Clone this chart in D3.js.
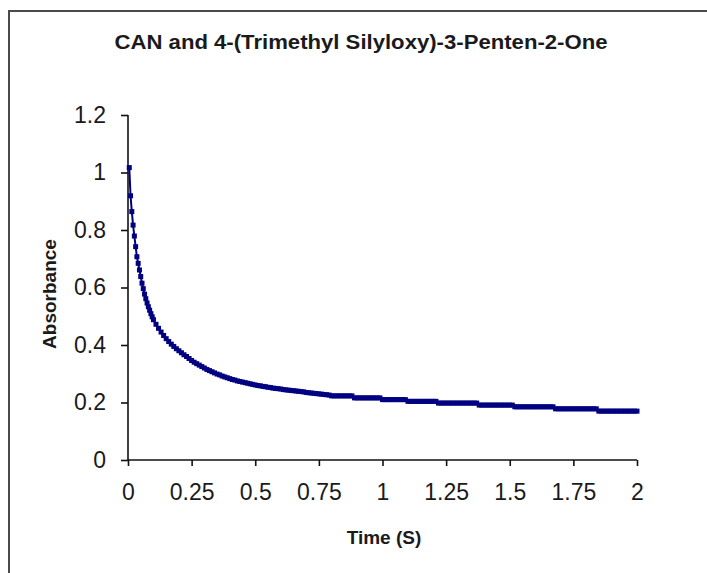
<!DOCTYPE html>
<html>
<head>
<meta charset="utf-8">
<script src="https://cdn.jsdelivr.net/npm/d3@7"></script>
<style>
  html, body { margin: 0; padding: 0; background: #fff; }
  svg { display: block; }
  text { font-family: Arial, "Liberation Sans", sans-serif; fill: #1a1a1a; }
</style>
</head>
<body>
<svg id="chart" width="707" height="573"></svg>
<script>
// Kinetic trace: absorbance of CAN + 4-(trimethyl silyloxy)-3-penten-2-one over time
const chartTitle = "CAN and 4-(Trimethyl Silyloxy)-3-Penten-2-One";
const xTitle = "Time (S)";
const yTitle = "Absorbance";

const xTickValues = [0, 0.25, 0.5, 0.75, 1, 1.25, 1.5, 1.75, 2];
const xTickLabels = ["0", "0.25", "0.5", "0.75", "1", "1.25", "1.5", "1.75", "2"];
const yTickValues = [0, 0.2, 0.4, 0.6, 0.8, 1, 1.2];
const yTickLabels = ["0", "0.2", "0.4", "0.6", "0.8", "1", "1.2"];

// sample times (s)
const timeS = [
  0.005, 0.01, 0.015, 0.02, 0.025, 0.03, 0.035, 0.04, 0.045, 0.05,
  0.055, 0.06, 0.065, 0.07, 0.075, 0.08, 0.085, 0.09, 0.095, 0.1,
  0.11, 0.12, 0.13, 0.14, 0.15, 0.16, 0.17, 0.18, 0.19, 0.2,
  0.21, 0.22, 0.23, 0.24, 0.25, 0.26, 0.27, 0.28, 0.29, 0.3,
  0.31, 0.32, 0.33, 0.34, 0.35, 0.36, 0.37, 0.38, 0.39, 0.4,
  0.41, 0.42, 0.43, 0.44, 0.45, 0.46, 0.47, 0.48, 0.49, 0.5,
  0.51, 0.52, 0.53, 0.54, 0.55, 0.56, 0.57, 0.58, 0.59, 0.6,
  0.61, 0.62, 0.63, 0.64, 0.65, 0.66, 0.67, 0.68, 0.69, 0.7,
  0.71, 0.72, 0.73, 0.74, 0.75, 0.76, 0.77, 0.78, 0.79, 0.8,
  0.81, 0.82, 0.83, 0.84, 0.85, 0.86, 0.87, 0.88, 0.89, 0.9,
  0.91, 0.92, 0.93, 0.94, 0.95, 0.96, 0.97, 0.98, 0.99, 1.0,
  1.01, 1.02, 1.03, 1.04, 1.05, 1.06, 1.07, 1.08, 1.09, 1.1,
  1.11, 1.12, 1.13, 1.14, 1.15, 1.16, 1.17, 1.18, 1.19, 1.2,
  1.21, 1.22, 1.23, 1.24, 1.25, 1.26, 1.27, 1.28, 1.29, 1.3,
  1.31, 1.32, 1.33, 1.34, 1.35, 1.36, 1.37, 1.38, 1.39, 1.4,
  1.41, 1.42, 1.43, 1.44, 1.45, 1.46, 1.47, 1.48, 1.49, 1.5,
  1.51, 1.52, 1.53, 1.54, 1.55, 1.56, 1.57, 1.58, 1.59, 1.6,
  1.61, 1.62, 1.63, 1.64, 1.65, 1.66, 1.67, 1.68, 1.69, 1.7,
  1.71, 1.72, 1.73, 1.74, 1.75, 1.76, 1.77, 1.78, 1.79, 1.8,
  1.81, 1.82, 1.83, 1.84, 1.85, 1.86, 1.87, 1.88, 1.89, 1.9,
  1.91, 1.92, 1.93, 1.94, 1.95, 1.96, 1.97, 1.98, 1.99, 2.0
];

// measured absorbance at each sample time
const absorbance = [
  1.017, 0.919, 0.864, 0.817, 0.779, 0.742, 0.707, 0.684, 0.661, 0.638,
  0.615, 0.596, 0.577, 0.561, 0.546, 0.533, 0.521, 0.509, 0.498, 0.488,
  0.472, 0.458, 0.445, 0.433, 0.422, 0.412, 0.403, 0.395, 0.387, 0.380,
  0.373, 0.366, 0.360, 0.353, 0.346, 0.340, 0.335, 0.330, 0.325, 0.320,
  0.315, 0.311, 0.307, 0.303, 0.299, 0.296, 0.292, 0.289, 0.286, 0.283,
  0.280, 0.278, 0.275, 0.273, 0.271, 0.269, 0.267, 0.265, 0.263, 0.261,
  0.259, 0.258, 0.256, 0.255, 0.253, 0.252, 0.250, 0.249, 0.248, 0.247,
  0.245, 0.244, 0.243, 0.242, 0.241, 0.240, 0.239, 0.238, 0.237, 0.235,
  0.234, 0.233, 0.232, 0.231, 0.230, 0.229, 0.228, 0.227, 0.226, 0.223,
  0.223, 0.223, 0.223, 0.223, 0.223, 0.223, 0.223, 0.223, 0.216, 0.216,
  0.216, 0.216, 0.216, 0.216, 0.216, 0.216, 0.216, 0.216, 0.216, 0.210,
  0.210, 0.210, 0.210, 0.210, 0.210, 0.210, 0.210, 0.210, 0.210, 0.204,
  0.204, 0.204, 0.204, 0.204, 0.204, 0.204, 0.204, 0.204, 0.204, 0.204,
  0.204, 0.198, 0.198, 0.198, 0.198, 0.198, 0.198, 0.198, 0.198, 0.198,
  0.198, 0.198, 0.198, 0.198, 0.198, 0.198, 0.198, 0.191, 0.191, 0.191,
  0.191, 0.191, 0.191, 0.191, 0.191, 0.191, 0.191, 0.191, 0.191, 0.191,
  0.191, 0.185, 0.185, 0.185, 0.185, 0.185, 0.185, 0.185, 0.185, 0.185,
  0.185, 0.185, 0.185, 0.185, 0.185, 0.185, 0.185, 0.178, 0.178, 0.178,
  0.178, 0.178, 0.178, 0.178, 0.178, 0.178, 0.178, 0.178, 0.178, 0.178,
  0.178, 0.178, 0.178, 0.178, 0.170, 0.170, 0.170, 0.170, 0.170, 0.170,
  0.170, 0.170, 0.170, 0.170, 0.170, 0.170, 0.170, 0.170, 0.170, 0.170
];

const svg = d3.select("#chart");
const W = 707, H = 573;
const plot = { left: 128, right: 637, top: 115, bottom: 460 };
const seriesColor = "#000080";

// outer chart frame (runs off the right and bottom edges)
svg.append("path")
  .attr("d", `M9,${H + 5} L9,11 L${W + 5},11`)
  .attr("fill", "none")
  .attr("stroke", "#4a4a4a")
  .attr("stroke-width", 2);

const x = d3.scaleLinear().domain([0, 2]).range([plot.left, plot.right]);
const y = d3.scaleLinear().domain([0, 1.2]).range([plot.bottom, plot.top]);

// title
svg.append("text")
  .attr("x", 361).attr("y", 49)
  .attr("text-anchor", "middle")
  .attr("font-size", 20).attr("font-weight", "bold")
  .attr("textLength", 493).attr("lengthAdjust", "spacingAndGlyphs")
  .text(chartTitle);

// axes
const xAxis = d3.axisBottom(x)
  .tickValues(xTickValues)
  .tickFormat((d, i) => xTickLabels[i])
  .tickSize(6).tickPadding(18);
const yAxis = d3.axisLeft(y)
  .tickValues(yTickValues)
  .tickFormat((d, i) => yTickLabels[i])
  .tickSize(7).tickPadding(15);

const gx = svg.append("g").attr("transform", `translate(0,${plot.bottom})`).call(xAxis);
const gy = svg.append("g").attr("transform", `translate(${plot.left},0)`).call(yAxis);

[gx, gy].forEach(g => {
  g.select(".domain").attr("stroke", "#111").attr("stroke-width", 1.6);
  g.selectAll(".tick line").attr("stroke", "#111").attr("stroke-width", 1.6);
  g.selectAll(".tick text")
    .attr("font-family", "Arial, 'Liberation Sans', sans-serif")
    .attr("font-size", 23)
    .attr("fill", "#1a1a1a");
});
gx.select(".domain").attr("d", `M${plot.left},0H${plot.right}`);
gy.select(".domain").attr("d", `M0,${plot.bottom}V${plot.top}`);

// axis titles
svg.append("text")
  .attr("x", 384).attr("y", 544)
  .attr("text-anchor", "middle")
  .attr("font-size", 19).attr("font-weight", "bold")
  .text(xTitle);

svg.append("text")
  .attr("transform", "translate(56,294) rotate(-90)")
  .attr("text-anchor", "middle")
  .attr("font-size", 19).attr("font-weight", "bold")
  .text(yTitle);

// series
const pts = timeS.map((t, i) => [t, absorbance[i]]);

svg.append("path")
  .datum(pts)
  .attr("fill", "none")
  .attr("stroke", seriesColor)
  .attr("stroke-width", 2)
  .attr("d", d3.line().x(d => x(d[0])).y(d => y(d[1])));

svg.append("g")
  .selectAll("rect")
  .data(pts)
  .join("rect")
  .attr("x", d => x(d[0]) - 2.5)
  .attr("y", d => y(d[1]) - 2.5)
  .attr("width", 5)
  .attr("height", 5)
  .attr("fill", seriesColor);
</script>
</body>
</html>
